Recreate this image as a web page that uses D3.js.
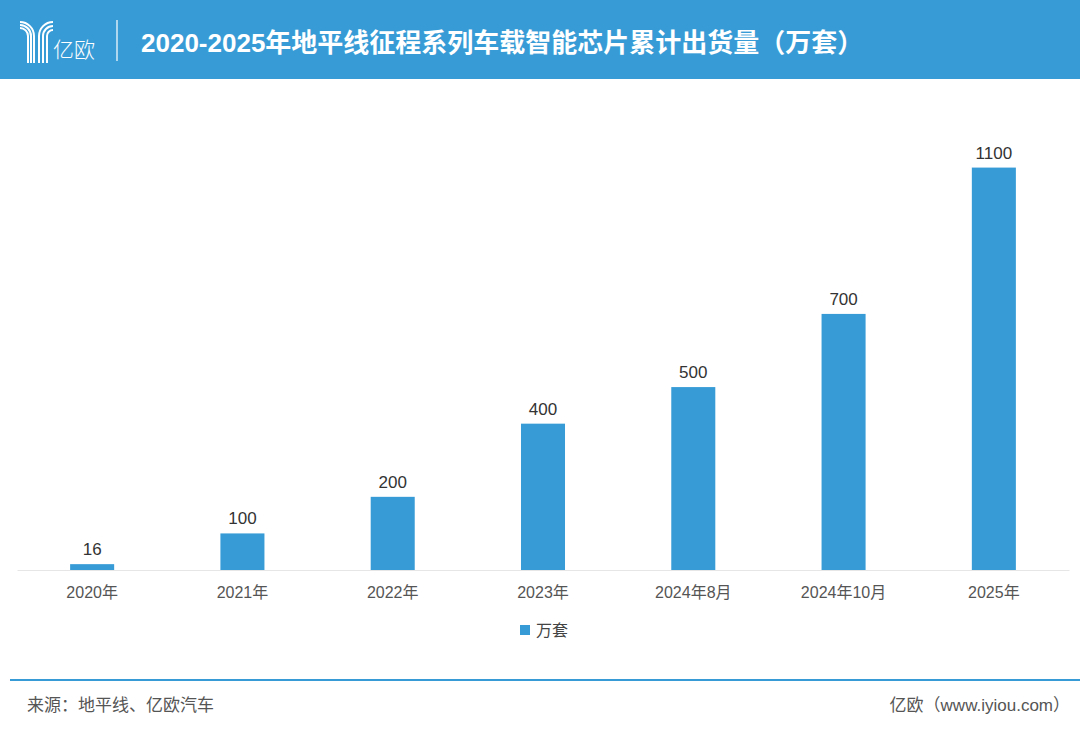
<!DOCTYPE html>
<html>
<head>
<meta charset="utf-8">
<script src="https://cdn.jsdelivr.net/npm/d3@7"></script>
<style>
  body { margin: 0; background: #fff; }
  svg { display: block; font-family: "Liberation Sans", "Noto Sans CJK SC", sans-serif; }
</style>
</head>
<body>
<div id="chart"></div>
<script>
// chart data
var categories = ["2020年", "2021年", "2022年", "2023年", "2024年8月", "2024年10月", "2025年"];
var shipments = [16, 100, 200, 400, 500, 700, 1100];
var seriesName = "万套";

var width = 1080, height = 734;
var blue = "#379cd6";

var svg = d3.select("#chart").append("svg")
    .attr("width", width)
    .attr("height", height);

// header bar
svg.append("rect")
    .attr("x", 0).attr("y", 0)
    .attr("width", width).attr("height", 79)
    .style("fill", blue);

// logo - stylised Y made of concentric arcs
var logo = svg.append("g")
    .style("fill", "none")
    .style("stroke", "#fff")
    .style("stroke-width", 2);
[8, 11, 14].forEach(function(r) {
    // left arms, centre (20,36)
    logo.append("path")
        .attr("d", "M20," + (36 - r) + " A" + r + "," + r + " 0 0 1 " + (20 + r) + ",36 L" + (20 + r) + ",63");
});
[14, 10, 6].forEach(function(r) {
    // right arms, centre (53,36)
    logo.append("path")
        .attr("d", "M53," + (36 - r) + " A" + r + "," + r + " 0 0 0 " + (53 - r) + ",36 L" + (53 - r) + ",63");
});
svg.append("text")
    .attr("x", 53).attr("y", 57)
    .style("fill", "#fff")
    .style("font-size", "21px")
    .style("font-weight", 300)
    .style("font-family", "'Noto Sans CJK SC', sans-serif")
    .text("亿欧");

svg.append("line")
    .attr("x1", 117).attr("x2", 117)
    .attr("y1", 20).attr("y2", 61)
    .style("stroke", "#fff")
    .style("stroke-width", 1.2);

svg.append("text")
    .attr("x", 141).attr("y", 52)
    .style("fill", "#fff")
    .style("font-size", "26px")
    .style("font-weight", "bold")
    .text("2020-2025年地平线征程系列车载智能芯片累计出货量（万套）");

// scales
var x = d3.scaleBand()
    .domain(categories)
    .range([17, 1069])
    .paddingInner(0.707)
    .paddingOuter(0.3535);

var y = d3.scaleLinear()
    .domain([0, 1200])
    .range([570, 131]);

// baseline axis
var xAxis = d3.axisBottom(x).tickSize(0).tickPadding(17);
var gx = svg.append("g")
    .attr("transform", "translate(0," + y(0) + ")")
    .call(xAxis);
gx.select(".domain").style("stroke", "#e6e6e6");
gx.selectAll("text")
    .style("font-size", "16px")
    .style("fill", "#555")
    .style("font-family", "'Liberation Sans', 'Noto Sans CJK SC', sans-serif");

// bars
svg.selectAll(".bar")
    .data(shipments)
    .enter()
    .append("rect")
    .attr("class", "bar")
    .attr("x", function(d, i) { return x(categories[i]); })
    .attr("y", function(d) { return y(d); })
    .attr("width", x.bandwidth())
    .attr("height", function(d) { return y(0) - y(d); })
    .style("fill", blue);

// value labels
svg.selectAll(".val")
    .data(shipments)
    .enter()
    .append("text")
    .attr("class", "val")
    .attr("x", function(d, i) { return x(categories[i]) + x.bandwidth() / 2; })
    .attr("y", function(d) { return y(d) - 9; })
    .attr("text-anchor", "middle")
    .style("font-size", "17px")
    .style("fill", "#333")
    .text(function(d) { return d; });

// legend
svg.append("rect")
    .attr("x", 520).attr("y", 625)
    .attr("width", 10).attr("height", 10)
    .style("fill", blue);
svg.append("text")
    .attr("x", 536).attr("y", 636)
    .style("font-size", "16px")
    .style("fill", "#444")
    .style("font-family", "'Noto Sans CJK SC', sans-serif")
    .text(seriesName);

// footer
svg.append("line")
    .attr("x1", 10).attr("x2", width)
    .attr("y1", 680).attr("y2", 680)
    .style("stroke", blue)
    .style("stroke-width", 2);

svg.append("text")
    .attr("x", 27).attr("y", 711)
    .style("font-size", "17px")
    .style("fill", "#555")
    .text("来源：地平线、亿欧汽车");

svg.append("text")
    .attr("x", 1070).attr("y", 711)
    .attr("text-anchor", "end")
    .style("font-size", "17px")
    .style("fill", "#555")
    .text("亿欧（www.iyiou.com）");
</script>
</body>
</html>
